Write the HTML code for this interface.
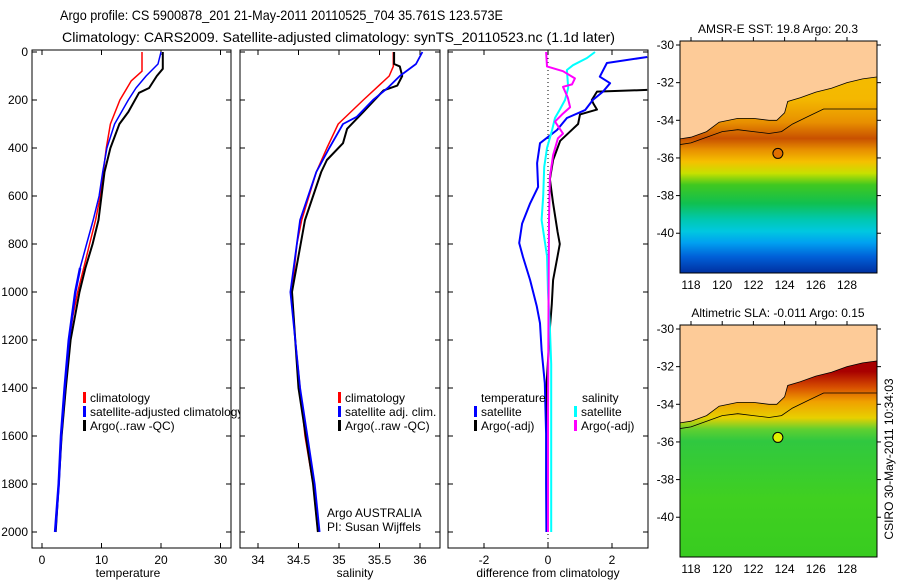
<!DOCTYPE html>
<html><head><meta charset="utf-8"><style>
html,body{margin:0;padding:0;background:#fff;}
svg{display:block;font-family:"Liberation Sans",sans-serif;}
</style></head><body>
<svg id="chart" width="900" height="580" viewBox="0 0 900 580" xmlns="http://www.w3.org/2000/svg">
<text x="60" y="20" font-size="14" textLength="443" lengthAdjust="spacingAndGlyphs">Argo profile: CS 5900878_201 21-May-2011 20110525_704 35.761S 123.573E</text>
<text x="62" y="42" font-size="14" textLength="553" lengthAdjust="spacingAndGlyphs">Climatology: CARS2009. Satellite-adjusted climatology: synTS_20110523.nc (1.1d later)</text>
<g id="plots"></g>
</svg>
<script>
// ---------- data ----------
const depthTicks = [0,200,400,600,800,1000,1200,1400,1600,1800,2000];
const tempTicks = [0,10,20,30];
const salTicks = [34,34.5,35,35.5,36];
const diffTicks = [-2,0,2];

const tClimDepth = [0,80,120,200,300,400,500,600,700,800,900,1000,1100,1200,1400,1600,1800,1950,2000];
const tClimVal   = [16.8,16.8,15,13.1,11.5,10.8,10.3,9.8,9,8,7,6,5.2,4.6,4,3.3,2.8,2.3,2.3];
const tSatDepth  = [0,50,100,150,200,300,400,500,600,700,800,900,1000,1200,1400,1600,1800,2000];
const tSatVal    = [20,19.5,17.5,15.8,14.5,12.2,10.9,10.2,9.6,8.6,7.5,6.4,5.6,4.5,3.8,3.2,2.8,2.2];
const tArgoDepth = [0,70,100,150,170,250,300,400,500,600,700,800,900,1000,1200,1400,1600,1800,2000];
const tArgoVal   = [20.3,20.3,19.3,18,16.3,14.5,13,11.5,10.5,10,9.5,8.5,7.3,6.3,4.8,4,3.3,2.8,2.3];

const sClimDepth = [0,60,100,200,300,400,500,700,800,1000,1200,1400,1600,1800,2000];
const sClimVal   = [35.67,35.67,35.62,35.3,34.99,34.85,34.72,34.54,34.48,34.42,34.46,34.52,34.58,34.68,34.74];
const sSatDepth  = [0,50,100,150,200,270,300,400,500,700,1000,1400,1800,2000];
const sSatVal    = [36.03,35.95,35.75,35.6,35.42,35.22,35.05,34.88,34.72,34.52,34.4,34.52,34.7,34.76];
const sArgoDepth = [0,50,60,100,140,160,250,320,380,450,500,700,1000,1400,1800,2000];
const sArgoVal   = [35.68,35.68,35.75,35.78,35.72,35.55,35.3,35.1,35.05,34.85,34.78,34.58,34.42,34.5,34.68,34.74];

const dTSatDepth = [21,46,103,130,165,200,242,275,325,380,463,562,631,715,796,854,950,1060,1130,1242,1380,1590,1800,2000];
const dTSatVal   = [3.1,1.84,1.62,1.94,1.72,1.4,1.16,0.59,0.28,-0.25,-0.34,-0.31,-0.56,-0.81,-0.9,-0.78,-0.56,-0.35,-0.25,-0.2,-0.1,-0.06,-0.06,-0.05];
const dTArgoDepth = [158,165,200,215,240,260,300,320,370,450,530,630,750,800,850,950,1050,1150,1400,1700,2000];
const dTArgoVal   = [3.1,1.53,1.37,1.42,1.53,1.0,0.94,0.78,0.38,0.16,0.06,0.16,0.3,0.37,0.3,0.16,0.12,0.06,-0.05,0,0];
const dSSatDepth = [0,25,55,75,150,200,240,275,330,400,480,600,700,850,1000,1150,1300,2000];
const dSSatVal   = [1.47,1.22,0.78,0.59,0.63,0.53,0.37,0.22,0.12,-0.03,-0.12,-0.15,-0.2,-0.03,0,0.06,0.1,0.1];
const dSArgoDepth = [0,60,80,110,135,145,190,230,260,290,340,360,430,520,700,1000,1500,2000];
const dSArgoVal   = [-0.06,-0.03,0.47,0.84,0.75,0.47,0.62,0.69,0.44,0.22,0.47,0.31,0.16,0.06,0.03,0.02,0.0,0.0];

const mapLonTicks = [118,120,122,124,126,128];
const mapLatTicks = [-30,-32,-34,-36,-38,-40];
const coastLon = [117.2,118,119,119.8,121,122,123,123.5,124,124.2,125,126,127,128,129,129.9];
const coastLat = [-35.0,-34.9,-34.6,-34.1,-33.9,-33.9,-34.0,-34.0,-33.6,-33.0,-32.8,-32.5,-32.3,-32.0,-31.8,-31.7];
const isoLon = [117.2,118,119,120,121,122,123,123.8,124.5,125.5,126.5,128,129.9];
const isoLat = [-35.3,-35.2,-34.9,-34.6,-34.5,-34.6,-34.7,-34.6,-34.2,-33.8,-33.4,-33.4,-33.4];
const argoLon = 123.57, argoLat = -35.76;

// ---------- helpers ----------
const NS = "http://www.w3.org/2000/svg";
const root = document.getElementById('plots');
function mk(tag, attrs, parent){ const e=document.createElementNS(NS,tag); for(const k in attrs) e.setAttribute(k,attrs[k]); (parent||root).appendChild(e); return e; }
function txt(x,y,s,size,anchor,parent){ const t=mk('text',{x:x,y:y,'font-size':size,'text-anchor':anchor||'start'},parent); t.textContent=s; return t; }

const Y0=52, PY=0.24, TOP=52-2, BOT=548;
const yD = d => Y0 + d*PY;

function panel(name,x0,x1,xf,ticks,label,lblX){
  const g=mk('g',{});
  
  
  const r=mk('rect',{x:x0,y:TOP,width:x1-x0,height:BOT-TOP,fill:'#fff',stroke:'#000','stroke-width':1},g);
  
  
  ticks.forEach(v=>{const x=xf(v);
    mk('line',{x1:x,x2:x,y1:TOP,y2:TOP+5,stroke:'#000'},g);
    mk('line',{x1:x,x2:x,y1:BOT,y2:BOT-5,stroke:'#000'},g);
    const t=txt(x,564,String(v),12,'middle',g);
    
    
  });
  depthTicks.forEach(d=>{const y=yD(d);
    mk('line',{x1:x0,x2:x0+5,y1:y,y2:y,stroke:'#000'},g);
    mk('line',{x1:x1,x2:x1-5,y1:y,y2:y,stroke:'#000'},g);
  });
  const l=txt(lblX,577,label,12,'middle',g);
  
  
  return g;
}
function series(g,name,depths,vals,xf,color,w){
  const pts=depths.map((d,i)=>xf(vals[i]).toFixed(1)+','+yD(d).toFixed(1)).join(' ');
  const p=mk('polyline',{points:pts,fill:'none',stroke:color,'stroke-width':w,'stroke-linejoin':'round'},g);
  
  
}
function legend(g,name,x,y,color,label){
  const b=mk('rect',{x:x,y:y-10,width:3,height:11,fill:color},g);
  
  
  if(label){const t=txt(x+7,y,label,12,'start',g);
    
    }
}

depthTicks.forEach(d=>{const t=txt(28,yD(d)+4,String(d),12,'end');
  
  });

// panel 1: temperature
const xT = v => 42 + v*5.95;
let g1=panel('temperature-panel',32,231,xT,tempTicks,'temperature',128);
series(g1,'temp-climatology-line',tClimDepth,tClimVal,xT,'#f00',1.5);
series(g1,'temp-satellite-line',tSatDepth,tSatVal,xT,'#00f',1.5);
series(g1,'temp-argo-line',tArgoDepth,tArgoVal,xT,'#000',2);
series(g1,'temp-satellite-line-over',tSatDepth.filter(d=>d>=900),tSatVal.slice(tSatDepth.indexOf(900)),xT,'#00f',2.5);
legend(g1,'legend-climatology',83,402,'#f00','climatology');
legend(g1,'legend-satellite-adjusted',83,416,'#00f','satellite-adjusted climatology');
legend(g1,'legend-argo-raw',83,430,'#000','Argo(..raw -QC)');

// panel 2: salinity
const xS = v => 258 + (v-34)*81;
let g2=panel('salinity-panel',240,440,xS,salTicks,'salinity',355);
series(g2,'sal-climatology-line',sClimDepth,sClimVal,xS,'#f00',1.5);
series(g2,'sal-argo-line',sArgoDepth,sArgoVal,xS,'#000',2);
series(g2,'sal-satellite-line',sSatDepth,sSatVal,xS,'#00f',1.8);
legend(g2,'legend-sal-climatology',338,402,'#f00','climatology');
legend(g2,'legend-sal-satellite',338,416,'#00f','satellite adj. clim.');
legend(g2,'legend-sal-argo',338,430,'#000','Argo(..raw -QC)');
let a1=txt(327,517,'Argo AUSTRALIA',12,'start',g2);  
let a2=txt(327,531,'PI: Susan Wijffels',12,'start',g2);  

// panel 3: difference
const xDf = v => 548 + v*32;
let g3=panel('difference-panel',448,648,xDf,diffTicks,'difference from climatology',548);
mk('line',{x1:548,x2:548,y1:TOP,y2:BOT,stroke:'#000','stroke-dasharray':'1,3'},g3);
const clip=mk('clipPath',{id:'c3'},g3); mk('rect',{x:448,y:TOP,width:200,height:BOT-TOP},clip);
const g3c=mk('g',{'clip-path':'url(#c3)'},g3);
series(g3c,'diff-temp-argo-line',dTArgoDepth,dTArgoVal,xDf,'#000',2);
series(g3c,'diff-temp-satellite-line',dTSatDepth,dTSatVal,xDf,'#00f',2);
series(g3c,'diff-sal-satellite-line',dSSatDepth,dSSatVal,xDf,'#0ff',2);
series(g3c,'diff-sal-argo-line',dSArgoDepth,dSArgoVal,xDf,'#f0f',2);
let lt=txt(481,402,'temperature',12,'start',g3);  
legend(g3,'legend-temp-satellite',474,416,'#00f','satellite');
legend(g3,'legend-temp-argo',474,430,'#000','Argo(-adj)');
let ls=txt(582,402,'salinity',12,'start',g3);  
legend(g3,'legend-sal-sat',574,416,'#0ff','satellite');
legend(g3,'legend-sal-argo-adj',574,430,'#f0f','Argo(-adj)');

// ---------- maps ----------
function map(name,top,bottom,title,stops,argoFill,gid){
  const g=mk('g',{});
  
  
  const x0=680,x1=877;
  const ly = lat => top+4 + (-30-lat)*((bottom-top-8)/11.9);
  const lx = lon => 691 + (lon-118)*15.6;
  const defs=mk('defs',{},g);
  const lg=mk('linearGradient',{id:gid,x1:0,y1:0,x2:0,y2:1},defs);
  stops.forEach(s=>mk('stop',{offset:s[0],'stop-color':s[1]},lg));
  const cp=mk('clipPath',{id:gid+'c'},defs); mk('rect',{x:x0,y:top,width:x1-x0,height:bottom-top},cp);
  const inner=mk('g',{'clip-path':'url(#'+gid+'c)'},g);
  const field=mk('rect',{x:x0,y:top,width:x1-x0,height:bottom-top,fill:'url(#'+gid+')'},inner);
  
  
  let pts=coastLon.map((l,i)=>lx(l).toFixed(1)+','+ly(coastLat[i]).toFixed(1)).join(' ');
  const land=mk('polygon',{points:(x1+5)+','+(top-5)+' '+(x0-5)+','+(top-5)+' '+(x0-5)+','+ly(-35.0)+' '+pts+' '+(x1+5)+','+ly(-31.7),fill:'#fdcb98',stroke:'#000','stroke-width':0.8},inner);
  
  
  const iso=mk('polyline',{points:isoLon.map((l,i)=>lx(l).toFixed(1)+','+ly(isoLat[i]).toFixed(1)).join(' '),fill:'none',stroke:'#000','stroke-width':0.8},inner);
  
  
  const c=mk('circle',{cx:lx(argoLon),cy:ly(argoLat),r:5,fill:argoFill,stroke:'#000','stroke-width':1},g);
  
  
  mk('rect',{x:x0,y:top,width:x1-x0,height:bottom-top,fill:'none',stroke:'#000'},g);
  mapLonTicks.forEach(l=>{const x=lx(l); mk('line',{x1:x,x2:x,y1:top,y2:top-4,stroke:'#000'},g);
    const t=txt(x,bottom+16,String(l),12,'middle',g);  });
  mapLatTicks.forEach(l=>{const y=ly(l); mk('line',{x1:x0,x2:x0-4,y1:y,y2:y,stroke:'#000'},g); mk('line',{x1:x1,x2:x1+4,y1:y,y2:y,stroke:'#000'},g);
    const t=txt(x0-6,y+4,String(l),12,'end',g);  });
  const tt=txt(778,top-8,title,12,'middle',g);  
}
map('sst-map',41,273,'AMSR-E SST: 19.8 Argo: 20.3',
  [[0,'#f4c000'],[0.25,'#f4b800'],[0.35,'#e89000'],[0.42,'#c85000'],[0.47,'#e89000'],[0.52,'#f5c000'],[0.57,'#c8e000'],[0.62,'#40c820'],[0.7,'#10c050'],[0.77,'#00c8b0'],[0.82,'#00c8e0'],[0.87,'#00a0f0'],[0.93,'#0060d8'],[1,'#0030a0']],
  '#e07000','g1');
map('sla-map',325,557,'Altimetric SLA: -0.011 Argo: 0.15',
  [[0,'#a00000'],[0.2,'#a80000'],[0.27,'#d85000'],[0.33,'#f0a000'],[0.4,'#e8d000'],[0.45,'#60d030'],[0.5,'#30c840'],[0.75,'#40d020'],[1,'#38cc20']],
  '#e0f000','g2');
let stamp=txt(0,0,'CSIRO 30-May-2011 10:34:03',12,'middle');
stamp.setAttribute('transform','translate(893,459) rotate(-90)');


</script>
</body></html>
